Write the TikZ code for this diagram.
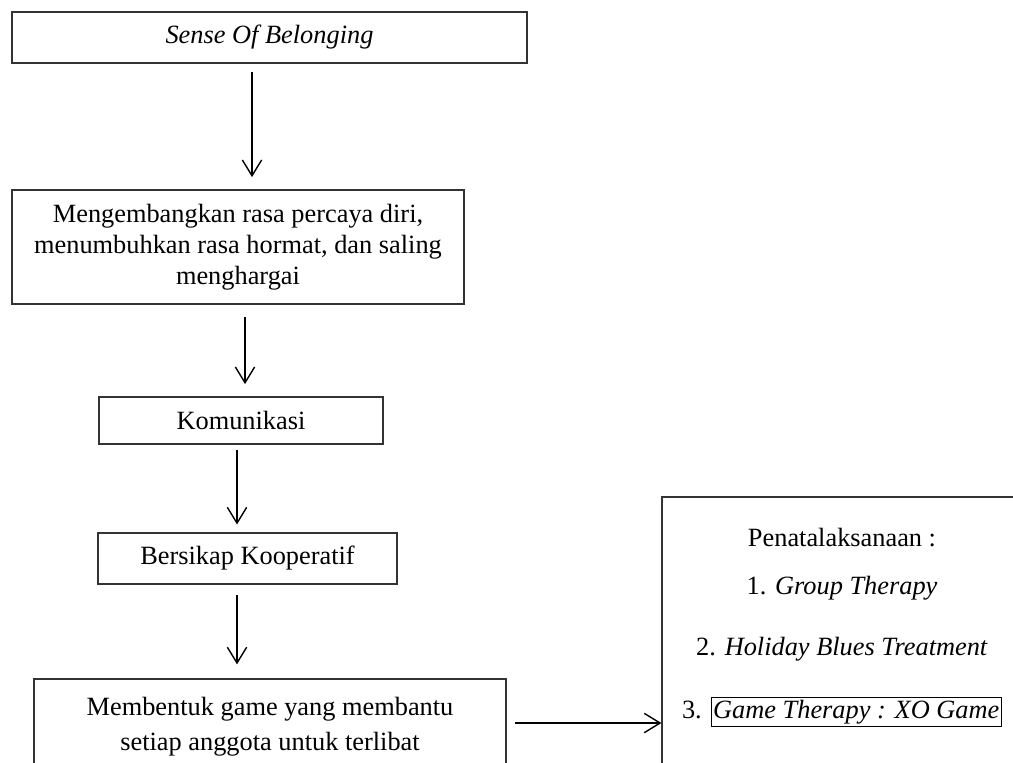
\documentclass[tikz,border=0pt]{standalone}
\usepackage{fontspec}
\setmainfont{Liberation Serif}
\usepackage{tikz}
\usetikzlibrary{arrows.meta}

\begin{document}
\begin{tikzpicture}[x=0.02cm, y=-0.02cm,
		box/.style={draw=black!80, line width=0.7pt, align=center, inner sep=0pt,
			font=\fontsize{15}{17.5}\selectfont},
		txt/.style={inner sep=0pt, font=\fontsize{15}{17.5}\selectfont},
		arr/.style={line width=0.8pt, -{Straight Barb[length=9pt,width=11pt]}}]
		\useasboundingbox (0,0) rectangle (1013,762);
		\clip (0,0) rectangle (1013,762);
		
		\node[box, minimum width=10.3cm, minimum height=1.02cm] (sob) at (269.5,37.5) {\textit{Sense Of Belonging}};
		\node[box, minimum width=9.04cm, minimum height=2.28cm] (pd) at (238,247)
			{Mengembangkan rasa percaya diri,\\ menumbuhkan rasa hormat, dan saling\\ menghargai};
		\node[box, minimum width=5.68cm, minimum height=0.94cm] (kom) at (241,420.5) {Komunikasi};
		\node[box, minimum width=5.98cm, minimum height=1.02cm] (kop) at (247.5,558.5) {Bersikap Kooperatif};
		\node[box, minimum width=9.44cm, minimum height=1.92cm] (game) at (270,727)
			{Membentuk game yang membantu\\[2.5pt] setiap anggota untuk terlibat};
		\node[box, minimum width=7.36cm, minimum height=5.86cm] (pen) at (846,643.5) {};
		
		\node[txt] (pen0) at (842,538) {Penatalaksanaan :};
		\node[txt] (it1) at (842,588) {1. \textit{Group Therapy}};
		\node[txt] (it2) at (842,649) {2. \textit{Holiday Blues Treatment}};
		\node[txt] (it3) at (842,712) {3. {\fboxsep=1pt\fboxrule=0.5pt\fbox{\textit{Game Therapy : XO Game}}}};
		
		\path[arr]
		(sob.south -| 252,0) edge[shorten <=5pt, shorten >=7pt] (pd.north -| 252,0)
		(pd.south -| 245,0) edge[shorten <=7pt, shorten >=7pt] (kom.north -| 245,0)
		(kom.south -| 237,0) edge[shorten <=3pt, shorten >=4.5pt] (kop.north -| 237,0)
		(kop.south -| 237,0) edge[shorten <=6pt, shorten >=8pt] (game.north -| 237,0)
		(game.east |- 0,723) edge[shorten <=5pt] (pen.west |- 0,723)
		;
	\end{tikzpicture}
\end{document}
